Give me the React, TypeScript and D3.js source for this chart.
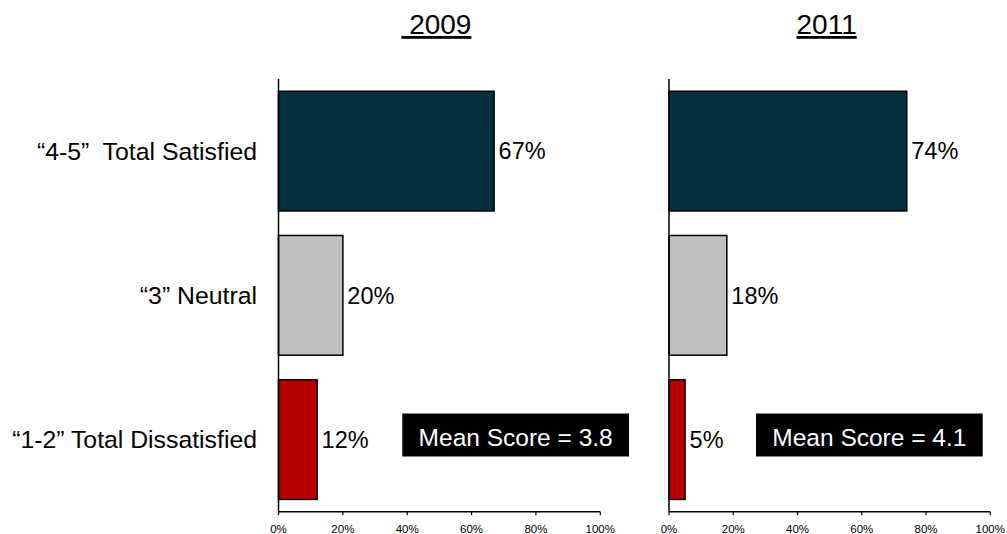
import React from "react";
import * as d3 from "d3";

// Satisfaction ratings, share of respondents (%)
const categories = ["“4-5”  Total Satisfied", "“3” Neutral", "“1-2” Total Dissatisfied"];
const years = [" 2009", "2011"];
const values2009 = [67, 20, 12];
const values2011 = [74, 18, 5];
const meanScores = [3.8, 4.1];
const tickValues = [0, 20, 40, 60, 80, 100];
const barColors = ["#05303f", "#c0c0c0", "#b80000"];

const W = 1007;
const H = 534;
const FONT = "'Liberation Sans', Arial, Helvetica, sans-serif";

const panels = [
  { title: years[0], values: values2009, mean: meanScores[0], x0: 278.5, x1: 600.3, box: [402.3, 629] },
  { title: years[1], values: values2011, mean: meanScores[1], x0: 669, x1: 990.3, box: [756, 982.7] },
];

const yTop = 79;
const yBottom = 511.7;

const y = d3
  .scaleBand<string>()
  .domain(categories)
  .range([yTop, yBottom])
  .paddingInner(0.17)
  .paddingOuter(0.085);

function Panel({ p }: { p: (typeof panels)[number] }) {
  const x = d3.scaleLinear().domain([0, 100]).range([p.x0, p.x1]);
  const cx = (p.x0 + p.x1) / 2 - 3;
  const bottomBand = y(categories[2])! + y.bandwidth() / 2;
  return (
    <g>
      <text
        x={cx}
        y={34}
        textAnchor="middle"
        fontSize={28}
        fontFamily={FONT}
        style={{ textDecoration: "underline", whiteSpace: "pre" }}
        fill="#000"
      >
        {p.title}
      </text>
      {categories.map((c, i) => (
        <g key={c}>
          <rect
            x={x(0)}
            y={y(c)}
            width={x(p.values[i]) - x(0)}
            height={y.bandwidth()}
            fill={barColors[i]}
            stroke="#000"
            strokeWidth={1.5}
          />
          <text
            x={x(p.values[i]) + 4.5}
            y={y(c)! + y.bandwidth() / 2}
            dy="0.35em"
            fontSize={23.5}
            fontFamily={FONT}
            fill="#000"
          >
            {p.values[i]}%
          </text>
        </g>
      ))}
      {/* axes */}
      <line x1={x(0)} x2={x(0)} y1={yTop} y2={yBottom} stroke="#000" strokeWidth={1.5} />
      <line x1={x(0)} x2={x(100)} y1={yBottom} y2={yBottom} stroke="#000" strokeWidth={1.5} />
      {tickValues.map((t) => (
        <g key={t}>
          <line x1={x(t)} x2={x(t)} y1={yBottom} y2={yBottom + 3.5} stroke="#000" strokeWidth={1.2} />
          <text
            x={x(t)}
            y={533}
            textAnchor="middle"
            fontSize={11.5}
            fontFamily={FONT}
            fill="#000"
          >
            {t}%
          </text>
        </g>
      ))}
      {/* mean score box */}
      <rect x={p.box[0]} y={413.5} width={p.box[1] - p.box[0]} height={43} fill="#000" />
      <text
        x={(p.box[0] + p.box[1]) / 2}
        y={bottomBand - 2.5}
        dy="0.35em"
        textAnchor="middle"
        fontSize={24.5}
        fontFamily={FONT}
        fill="#fff"
      >
        Mean Score = {p.mean.toFixed(1)}
      </text>
    </g>
  );
}

export default function App() {
  return (
    <svg width={W} height={H} style={{ display: "block", position: "absolute", left: 0, top: 0 }}>
      <rect width={W} height={H} fill="#fff" />
      {categories.map((c) => (
        <text
          key={c}
          x={257}
          y={y(c)! + y.bandwidth() / 2}
          dy="0.35em"
          textAnchor="end"
          fontSize={24.8}
          fontFamily={FONT}
          fill="#000"
          style={{ whiteSpace: "pre" }}
        >
          {c}
        </text>
      ))}
      {panels.map((p) => (
        <Panel key={p.title} p={p} />
      ))}
    </svg>
  );
}
